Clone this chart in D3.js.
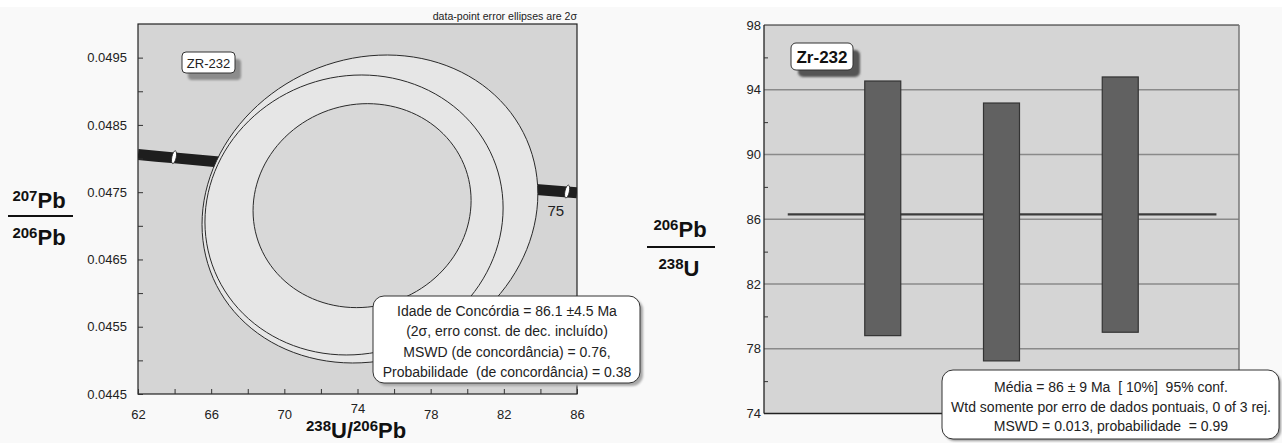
<!DOCTYPE html>
<html>
<head>
<meta charset="utf-8">
<script src="https://cdn.jsdelivr.net/npm/d3@7"></script>
<style>
  body { margin: 0; background: #f9f9f9; }
  svg { display: block; font-family: "Liberation Sans", Arial, sans-serif; }
</style>
</head>
<body>
<div id="chart"></div>
<script>
// ---- concordia plot (left) ----
const concX = [62, 64, 70, 76, 82, 86];                          // 238U/206Pb
const concY = [0.04806, 0.04801, 0.04786, 0.04771, 0.04758, 0.04749]; // 207Pb/206Pb
const markAge = [100, 75];
const markX = [63.97, 85.46];
const markY = [0.04802, 0.04751];
const markLabel = ["", "75"];

// error ellipses (2 sigma), drawn in this order
const ellX = [74.68, 73.81, 74.25];
const ellY = [0.04725, 0.047161, 0.04730];
const ellRx = [9.18, 8.15, 5.96];
const ellRy = [0.002289, 0.002081, 0.001516];
const ellRho = [0.10, 0.05, 0.05];
const ellFill = ["#e6e6e6", "#e6e6e6", "#d8d8d8"];

const xTicks = [62, 66, 70, 74, 78, 82, 86];
const yTicks = [0.0445, 0.0455, 0.0465, 0.0475, 0.0485, 0.0495];

const concText = [
  "Idade de Concórdia = 86.1 ±4.5 Ma",
  "(2σ, erro const. de dec. incluído)",
  "MSWD (de concordância) = 0.76,",
  "Probabilidade  (de concordância) = 0.38"
];

// ---- weighted mean plot (right) ----
const barTop = [94.54, 93.18, 94.79];
const barBottom = [78.81, 77.25, 79.02];
const meanValue = 86.3;
const meanTicks = [74, 78, 82, 86, 90, 94, 98];
const meanText = [
  "Média = 86 ± 9 Ma  [ 10%]  95% conf.",
  "Wtd somente por erro de dados pontuais, 0 of 3 rej.",
  "MSWD = 0.013, probabilidade  = 0.99"
];

const W = 1282, H = 443;
const svg = d3.select("#chart").append("svg").attr("width", W).attr("height", H);
svg.append("rect").attr("width", W).attr("height", 7).attr("fill", "#ffffff");

const defs = svg.append("defs");
defs.append("filter").attr("id", "soft")
  .append("feGaussianBlur").attr("stdDeviation", 1);

// shadowed rounded label box
function labelBox(g, x, y, w, h, r, dx, dy, shade) {
  g.append("rect").attr("x", x + dx).attr("y", y + dy).attr("width", w).attr("height", h)
    .attr("rx", r).attr("fill", shade).attr("filter", "url(#soft)");
  g.append("rect").attr("x", x).attr("y", y).attr("width", w).attr("height", h)
    .attr("rx", r).attr("fill", "#ffffff").attr("stroke", "#333").attr("stroke-width", 1);
}

// ================= left: concordia =================
const L = { left: 138, right: 577, top: 24, bottom: 394 };
const x = d3.scaleLinear().domain([62, 86]).range([L.left, L.right]);
const y = d3.scaleLinear().domain([0.0445, 0.0500]).range([L.bottom, L.top]);

defs.append("clipPath").attr("id", "clipL")
  .append("rect").attr("x", L.left).attr("y", L.top)
  .attr("width", L.right - L.left).attr("height", L.bottom - L.top);

const gl = svg.append("g");
gl.append("rect").attr("x", L.left).attr("y", L.top)
  .attr("width", L.right - L.left).attr("height", L.bottom - L.top).attr("fill", "#d5d5d5");

const plotL = gl.append("g").attr("clip-path", "url(#clipL)");

// concordia band
const conc = concX.map((d, i) => [d, concY[i]]);
plotL.append("path")
  .attr("d", d3.line().x(d => x(d[0])).y(d => y(d[1])).curve(d3.curveMonotoneX)(conc))
  .attr("fill", "none").attr("stroke", "#1e1e1e").attr("stroke-width", 11);

// age markers
markAge.forEach((a, i) => {
  plotL.append("ellipse")
    .attr("cx", x(markX[i])).attr("cy", y(markY[i]))
    .attr("rx", 2.2).attr("ry", 6.5)
    .attr("transform", "rotate(12," + x(markX[i]) + "," + y(markY[i]) + ")")
    .attr("fill", "#ffffff").attr("stroke", "#222").attr("stroke-width", 0.8);
  if (markLabel[i]) {
    plotL.append("text").attr("x", x(markX[i]) - 3).attr("y", y(markY[i]) + 24)
      .attr("text-anchor", "end").attr("font-size", 15).attr("fill", "#222")
      .text(markLabel[i]);
  }
});

// error ellipses
const ts = d3.range(0, 361, 3).map(d => d * Math.PI / 180);
ellX.forEach((cx, i) => {
  const pts = ts.map(t => [
    cx + ellRx[i] * Math.cos(t),
    ellY[i] + ellRy[i] * (ellRho[i] * Math.cos(t) + Math.sqrt(1 - ellRho[i] * ellRho[i]) * Math.sin(t))
  ]);
  plotL.append("path")
    .attr("d", d3.line().x(d => x(d[0])).y(d => y(d[1])).curve(d3.curveLinearClosed)(pts))
    .attr("fill", ellFill[i]).attr("stroke", "#2a2a2a").attr("stroke-width", 1);
});

// frame
gl.append("rect").attr("x", L.left).attr("y", L.top)
  .attr("width", L.right - L.left).attr("height", L.bottom - L.top)
  .attr("fill", "none").attr("stroke", "#222").attr("stroke-width", 1.2);

// axes (ticks inward)
const yAxL = gl.append("g").attr("transform", "translate(" + L.left + ",0)")
  .call(d3.axisLeft(y).tickValues(yTicks).tickFormat(d3.format(".4f")).tickSize(-5).tickPadding(11));
const yMinL = gl.append("g").attr("transform", "translate(" + L.left + ",0)")
  .call(d3.axisLeft(y).tickValues(yTicks.map(d => d + 0.0005).filter(d => d < 0.05)).tickFormat("").tickSize(-5));
const xAxL = gl.append("g").attr("transform", "translate(0," + L.bottom + ")")
  .call(d3.axisBottom(x).tickValues(xTicks).tickSize(-5).tickPadding(16));
const xMinL = gl.append("g").attr("transform", "translate(0," + L.bottom + ")")
  .call(d3.axisBottom(x).tickValues(xTicks.slice(0, -1).map(d => d + 2)).tickFormat("").tickSize(-5));
[yAxL, yMinL, xAxL, xMinL].forEach(a => {
  a.select(".domain").remove();
  a.selectAll("line").attr("stroke", "#333");
  a.selectAll("text").attr("font-size", 13).attr("fill", "#222")
    .attr("font-family", "'Liberation Sans', Arial, sans-serif");
});
// the 74 label sits a little higher, just above the axis title
xAxL.selectAll(".tick").filter(d => d === 74).select("text").attr("y", 10);

gl.append("text").attr("x", L.right).attr("y", 20).attr("text-anchor", "end")
  .attr("font-size", 10.6).attr("fill", "#222").text("data-point error ellipses are 2σ");

// sample tag
labelBox(gl, 182, 52, 53, 21, 4, 6, 7, "#8c8c8c");
gl.append("text").attr("x", 208.5).attr("y", 67.5).attr("text-anchor", "middle")
  .attr("font-size", 13).attr("fill", "#222").text("ZR-232");

// result box
labelBox(gl, 373, 296, 267, 87, 11, 3, 3, "#a8a8a8");
concText.forEach((t, i) => {
  gl.append("text").attr("x", 507).attr("y", 316 + i * 20.4).attr("text-anchor", "middle")
    .attr("font-size", 14).attr("fill", "#222").style("white-space", "pre").text(t);
});

// axis titles
function isoLabel(g, cx, base, parts) {
  const t = g.append("text").attr("x", cx).attr("y", base).attr("text-anchor", "middle")
    .attr("font-weight", "bold").attr("fill", "#111");
  parts.forEach(p => {
    t.append("tspan").attr("font-size", p[1]).attr("dy", p[2]).text(p[0]);
  });
  return t;
}
isoLabel(gl, 39, 208, [["207", 15, -7], ["Pb", 22, 7]]);
gl.append("line").attr("x1", 8).attr("x2", 73).attr("y1", 216).attr("y2", 216)
  .attr("stroke", "#111").attr("stroke-width", 2);
isoLabel(gl, 39, 245, [["206", 15, -7], ["Pb", 22, 7]]);

const xt = gl.append("text").attr("x", 306).attr("y", 438).attr("font-weight", "bold").attr("fill", "#111");
[["238", 15, -7], ["U/", 22, 7], ["206", 15, -7], ["Pb", 22, 7]].forEach(p => {
  xt.append("tspan").attr("font-size", p[1]).attr("dy", p[2]).text(p[0]);
});

// ================= right: weighted mean =================
const R = { left: 764, right: 1239, top: 25, bottom: 413.5 };
const xr = d3.scaleLinear().domain([0, 4]).range([R.left, R.right]);
const yr = d3.scaleLinear().domain([74, 98]).range([R.bottom, R.top]);

const gr = svg.append("g");
gr.append("rect").attr("x", R.left).attr("y", R.top)
  .attr("width", R.right - R.left).attr("height", R.bottom - R.top).attr("fill", "#d5d5d5");

// gridlines
gr.append("g").selectAll("line").data(meanTicks.slice(1, -1)).join("line")
  .attr("x1", R.left).attr("x2", R.right)
  .attr("y1", d => yr(d)).attr("y2", d => yr(d))
  .attr("stroke", "#8a8a8a").attr("stroke-width", 1.3);

// mean line
gr.append("line").attr("x1", xr(0.2)).attr("x2", xr(3.81))
  .attr("y1", yr(meanValue)).attr("y2", yr(meanValue))
  .attr("stroke", "#3c3c3c").attr("stroke-width", 2.2);

// error bars as boxes
const barW = 36;
gr.append("g").selectAll("rect").data(barTop).join("rect")
  .attr("x", (d, i) => xr(i + 1) - barW / 2)
  .attr("y", d => yr(d))
  .attr("width", barW)
  .attr("height", (d, i) => yr(barBottom[i]) - yr(d))
  .attr("fill", "#616161").attr("stroke", "#333").attr("stroke-width", 1.2);

// frame
gr.append("line").attr("x1", R.left).attr("x2", R.right).attr("y1", R.top).attr("y2", R.top)
  .attr("stroke", "#222").attr("stroke-width", 1.2);
gr.append("line").attr("x1", R.right).attr("x2", R.right).attr("y1", R.top).attr("y2", R.bottom)
  .attr("stroke", "#777").attr("stroke-width", 1.5);
gr.append("line").attr("x1", R.left).attr("x2", R.right).attr("y1", R.bottom).attr("y2", R.bottom)
  .attr("stroke", "#222").attr("stroke-width", 1.3);
gr.append("line").attr("x1", R.left).attr("x2", R.left).attr("y1", R.top).attr("y2", R.bottom)
  .attr("stroke", "#222").attr("stroke-width", 1.3);

const yAxR = gr.append("g").attr("transform", "translate(" + R.left + ",0)")
  .call(d3.axisLeft(yr).tickValues(meanTicks).tickSize(0).tickPadding(3));
const yMinR = gr.append("g").attr("transform", "translate(" + R.left + ",0)")
  .call(d3.axisLeft(yr).tickValues(meanTicks.slice(0, -1).map(d => d + 2)).tickFormat("").tickSize(-4));
[yAxR, yMinR].forEach(a => {
  a.select(".domain").remove();
  a.selectAll("line").attr("stroke", "#333");
  a.selectAll("text").attr("font-size", 13).attr("fill", "#222")
    .attr("font-family", "'Liberation Sans', Arial, sans-serif");
});

labelBox(gr, 791, 43, 62, 27, 5, 7, 7, "#555555");
gr.append("text").attr("x", 822).attr("y", 62.5).attr("text-anchor", "middle")
  .attr("font-size", 17).attr("font-weight", "bold").attr("fill", "#111").text("Zr-232");

labelBox(gr, 942, 370, 337, 69, 11, 2, 2, "#9a9a9a");
meanText.forEach((t, i) => {
  gr.append("text").attr("x", 1111).attr("y", 392 + i * 19.5).attr("text-anchor", "middle")
    .attr("font-size", 14).attr("fill", "#222").style("white-space", "pre").text(t);
});

isoLabel(gr, 680, 237, [["206", 15, -7], ["Pb", 22, 7]]);
gr.append("line").attr("x1", 647).attr("x2", 715).attr("y1", 247).attr("y2", 247)
  .attr("stroke", "#111").attr("stroke-width", 2);
isoLabel(gr, 679, 276, [["238", 15, -7], ["U", 22, 7]]);
</script>
</body>
</html>
